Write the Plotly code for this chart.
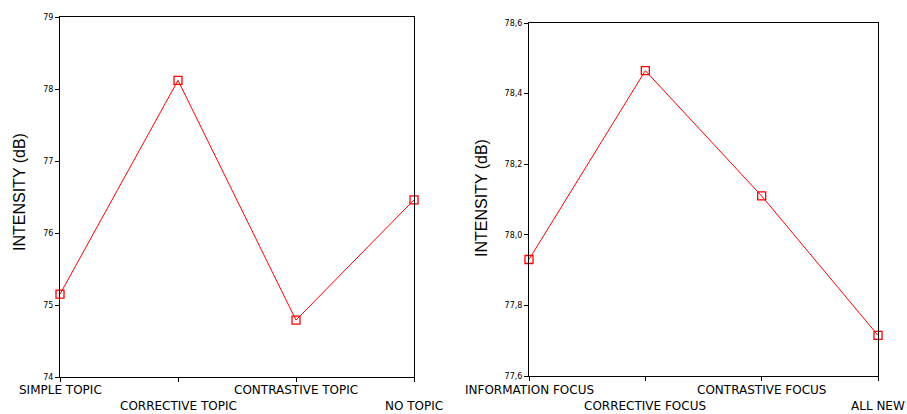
import plotly.graph_objects as go

topic_categories = ["SIMPLE TOPIC", "CORRECTIVE TOPIC", "CONTRASTIVE TOPIC", "NO TOPIC"]
topic_intensity = [75.15, 78.12, 74.79, 76.46]

focus_categories = ["INFORMATION FOCUS", "CORRECTIVE FOCUS", "CONTRASTIVE FOCUS", "ALL NEW"]
focus_intensity = [77.93, 78.465, 78.11, 77.715]

y_title = "INTENSITY (dB)"

W, H = 907, 414
RED = "#ff0000"
LABEL_FONT = "DejaVu Sans, Verdana, sans-serif"
TITLE_FONT = "Liberation Sans, Arial, sans-serif"


def px(x):
    return x / W


def py(y):
    return (H - y) / H


fig = go.Figure()
marker = dict(symbol="square-open", size=8, color=RED, line=dict(width=1.3, color=RED))
fig.add_trace(go.Scatter(
    x=list(range(len(topic_categories))), y=topic_intensity,
    mode="lines+markers", xaxis="x", yaxis="y",
    line=dict(color=RED, width=1), marker=marker,
    showlegend=False, cliponaxis=False,
))
fig.add_trace(go.Scatter(
    x=list(range(len(focus_categories))), y=focus_intensity,
    mode="lines+markers", xaxis="x2", yaxis="y2",
    line=dict(color=RED, width=1), marker=marker,
    showlegend=False, cliponaxis=False,
))

axis_common = dict(showline=True, linecolor="black", linewidth=1, mirror=True,
                   showgrid=False, zeroline=False, ticks="outside", ticklen=4,
                   tickcolor="black", automargin=False)

fig.update_layout(
    width=W, height=H,
    margin=dict(l=0, r=0, t=0, b=0),
    paper_bgcolor="white", plot_bgcolor="white",
    separators=", ",
    font=dict(family=LABEL_FONT, color="black"),
    xaxis=dict(domain=[px(60), px(414)], anchor="y", range=[0, 3],
               tickvals=list(range(4)), showticklabels=False, **axis_common),
    yaxis=dict(domain=[py(377), py(17)], anchor="x", range=[74, 79],
               dtick=1, tickfont=dict(size=8), tickformat="d", **axis_common),
    xaxis2=dict(domain=[px(529), px(878)], anchor="y2", range=[0, 3],
                tickvals=list(range(4)), showticklabels=False, **axis_common),
    yaxis2=dict(domain=[py(376), py(23)], anchor="x2", range=[77.6, 78.6],
                dtick=0.2, tick0=77.6, tickformat=".1f", tickfont=dict(size=8),
                **axis_common),
)

annotations = []
for xref, cats in (("x", topic_categories), ("x2", focus_categories)):
    for i, lab in enumerate(cats):
        annotations.append(dict(
            text=lab, xref=xref, x=i, yref="paper",
            y=py(389.5 if i % 2 == 0 else 406),
            xanchor="center", yanchor="middle", showarrow=False,
            font=dict(family=LABEL_FONT, size=12, color="black"),
        ))
for xs, ys in ((20, 192), (481, 198)):
    annotations.append(dict(
        text=y_title, xref="paper", yref="paper", x=px(xs), y=py(ys),
        xanchor="center", yanchor="middle", textangle=-90, showarrow=False,
        font=dict(family=TITLE_FONT, size=16, color="black"),
    ))
fig.update_layout(annotations=annotations)

fig.write_html(
    "out.html",
    config={"displayModeBar": False},
    post_script="document.body.style.margin='0';document.body.style.overflow='hidden';",
)
